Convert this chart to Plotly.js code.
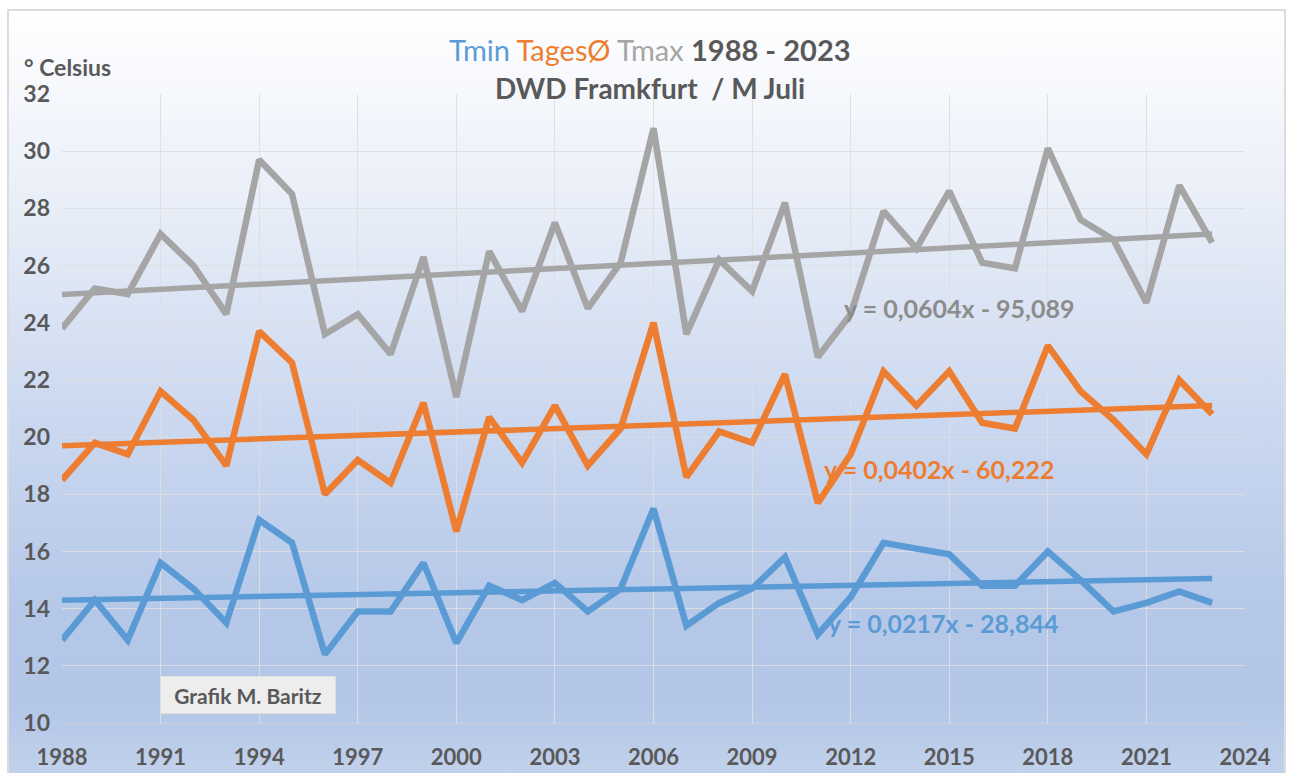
<!DOCTYPE html>
<html><head><meta charset="utf-8">
<script src="https://cdn.plot.ly/plotly-3.0.1.min.js"></script>
<style>
html,body{margin:0;padding:0;background:#fff;width:1290px;height:773px;overflow:hidden}
#frame{position:absolute;left:7px;top:9px;width:1279px;height:770px;border:2px solid #DCDCDC;box-sizing:border-box;
background:linear-gradient(to bottom,#FFFFFF 0%,#E6ECF7 28%,#CCD9F0 52%,#B5C8E8 78%,#B3C6E7 90%,#C2D2EC 100%);}
#chart{position:absolute;left:0;top:0;width:1290px;height:773px}
</style></head>
<body>
<div id="frame"></div>
<div id="chart"></div>
<script>
const years = [1988,1989,1990,1991,1992,1993,1994,1995,1996,1997,1998,1999,2000,2001,2002,2003,2004,2005,2006,2007,2008,2009,2010,2011,2012,2013,2014,2015,2016,2017,2018,2019,2020,2021,2022,2023];
const tmax = [23.8,25.2,25.0,27.1,26.0,24.3,29.7,28.5,23.6,24.3,22.9,26.3,21.4,26.5,24.4,27.5,24.5,26.1,30.8,23.6,26.2,25.1,28.2,22.8,24.3,27.9,26.6,28.6,26.1,25.9,30.1,27.6,26.9,24.7,28.8,26.8];
const tages = [18.5,19.8,19.4,21.6,20.6,19.0,23.7,22.6,18.0,19.2,18.4,21.2,16.7,20.7,19.1,21.1,19.0,20.3,24.0,18.6,20.2,19.8,22.2,17.7,19.4,22.3,21.1,22.3,20.5,20.3,23.2,21.6,20.6,19.4,22.0,20.8];
const tmin = [12.9,14.3,12.9,15.6,14.7,13.5,17.1,16.3,12.4,13.9,13.9,15.6,12.8,14.8,14.3,14.9,13.9,14.7,17.5,13.4,14.2,14.7,15.8,13.1,14.4,16.3,16.1,15.9,14.8,14.8,16.0,15.0,13.9,14.2,14.6,14.2];
// Trend line coefficients as printed in the chart
const trendSlope = {tmin:0.0217, tages:0.0402, tmax:0.0604};
const trendIntercept = {tmin:-28.844, tages:-60.222, tmax:-95.089};
const trendLabels = {tmin:'y = 0,0217x - 28,844', tages:'y = 0,0402x - 60,222', tmax:'y = 0,0604x - 95,089'};
const xTicks = [1988,1991,1994,1997,2000,2003,2006,2009,2012,2015,2018,2021,2024];
const yTicks = [10,12,14,16,18,20,22,24,26,28,30,32];

const C = {tmin:'#5B9BD5', tages:'#ED7D31', tmax:'#A5A5A5'};
const FONT = 'Lato, "Open Sans", sans-serif';

function trend(key){
  const x0 = years[0], x1 = years[years.length-1];
  return {x:[x0,x1], y:[trendSlope[key]*x0+trendIntercept[key], trendSlope[key]*x1+trendIntercept[key]],
    mode:'lines', line:{color:C[key], width:5.5}, hoverinfo:'skip', showlegend:false};
}

const traces = [
  {x:years, y:tmax, mode:'lines', line:{color:C.tmax, width:6.5}, showlegend:false},
  {x:years, y:tages, mode:'lines', line:{color:C.tages, width:6.5}, showlegend:false},
  {x:years, y:tmin, mode:'lines', line:{color:C.tmin, width:6.5}, showlegend:false},
  trend('tmax'), trend('tages'), trend('tmin')
];

const layout = {
  width:1290, height:773,
  margin:{l:62, r:45, t:94, b:50},
  paper_bgcolor:'rgba(0,0,0,0)', plot_bgcolor:'rgba(0,0,0,0)',
  font:{family:FONT, color:'#595959'},
  showlegend:false,
  xaxis:{range:[1988,2024], tickvals:xTicks, ticktext:xTicks.map(String),
    showgrid:true, gridcolor:'rgba(222,222,222,0.9)', gridwidth:1,
    zeroline:false, showline:true, linecolor:'#D0D0D0', linewidth:1,
    ticks:'', ticklabelstandoff:15,
    tickfont:{family:FONT, size:22, color:'#595959', weight:700}},
  yaxis:{range:[10,32], tickvals:yTicks, ticktext:yTicks.map(String),
    showgrid:true, gridcolor:'rgba(222,222,222,0.9)', gridwidth:1,
    zeroline:false, showline:false, ticks:'', ticklabelstandoff:11,
    tickfont:{family:FONT, size:23, color:'#595959', weight:700}},
  annotations:[
    {xref:'paper', yref:'paper', x:0.497, y:1.070, xanchor:'center', yanchor:'middle', showarrow:false,
     text:'<span style="color:'+C.tmin+'">Tmin</span> <span style="color:'+C.tages+'">TagesØ</span> <span style="color:'+C.tmax+'">Tmax</span> <b>1988 - 2023</b>',
     font:{family:FONT, size:29, color:'#595959'}},
    {xref:'paper', yref:'paper', x:0.497, y:1.0095, xanchor:'center', yanchor:'middle', showarrow:false,
     text:'DWD Framkfurt  / M Juli', font:{family:FONT, size:28, color:'#595959', weight:700}},
    {xref:'paper', yref:'paper', x:-0.034, y:1.043, xanchor:'left', yanchor:'middle', showarrow:false,
     text:'° Celsius', font:{family:FONT, size:23, color:'#595959', weight:700}},
    {xref:'x', yref:'y', x:2015.3, y:24.5, xanchor:'center', yanchor:'middle', showarrow:false,
     text:trendLabels.tmax, font:{family:FONT, size:25, color:'#8C8C8C', weight:700}},
    {xref:'x', yref:'y', x:2014.7, y:18.9, xanchor:'center', yanchor:'middle', showarrow:false,
     text:trendLabels.tages, font:{family:FONT, size:25, color:C.tages, weight:700}},
    {xref:'x', yref:'y', x:2014.8, y:13.5, xanchor:'center', yanchor:'middle', showarrow:false,
     text:trendLabels.tmin, font:{family:FONT, size:25, color:C.tmin, weight:700}},
    {xref:'x', yref:'y', x:1993.66, y:10.99, xanchor:'center', yanchor:'middle', showarrow:false,
     text:'Grafik M. Baritz', font:{family:FONT, size:21, color:'#595959', weight:700},
     bgcolor:'#EDEDED', bordercolor:'#E0E0E0', borderwidth:1, borderpad:6, width:162, height:24}
  ]
};

Plotly.newPlot('chart', traces, layout, {displayModeBar:false, staticPlot:true});
</script>
</body></html>
